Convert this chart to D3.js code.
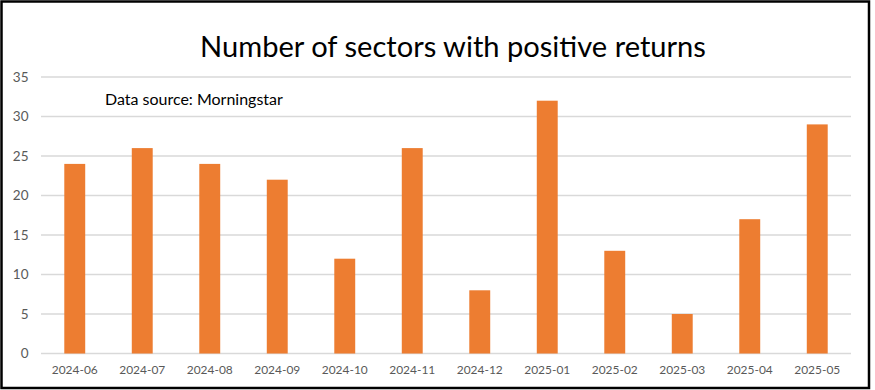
<!DOCTYPE html>
<html><head><meta charset="utf-8">
<script src="https://cdn.jsdelivr.net/npm/d3@7"></script>
<style>
html,body{margin:0;padding:0;background:#fff;}
svg{display:block;}
</style></head>
<body>
<svg id="chart" width="875" height="390"></svg>
<script>
const categories = ["2024-06","2024-07","2024-08","2024-09","2024-10","2024-11","2024-12","2025-01","2025-02","2025-03","2025-04","2025-05"];
const values = [24, 26, 24, 22, 12, 26, 8, 32, 13, 5, 17, 29];
const yTicks = [0, 5, 10, 15, 20, 25, 30, 35];
const titleText = "Number of sectors with positive returns";
const sourceText = "Data source: Morningstar";

(function () {
const svg = d3.select("#chart");
const font = "Lato, 'Open Sans', sans-serif";

// frame
svg.append("rect").attr("x", 1.5).attr("y", 1.5).attr("width", 867.5).attr("height", 386.5)
  .attr("fill", "#fff").attr("stroke", "#000").attr("stroke-width", 2.5);

const pLeft = 41, pRight = 851, pTop = 77, pBottom = 353.5;
const x = d3.scaleBand().domain(categories).range([pLeft, pRight]).paddingInner(0.69).paddingOuter(0.345);
const y = d3.scaleLinear().domain([0, 35]).range([pBottom, pTop]);

// gridlines
svg.append("g").selectAll("line").data(yTicks).join("line")
  .attr("x1", pLeft).attr("x2", pRight)
  .attr("y1", d => y(d)).attr("y2", d => y(d))
  .attr("stroke", "#d9d9d9").attr("stroke-width", 1.3);

// y axis labels
const yAxis = d3.axisLeft(y).tickValues(yTicks).tickSize(0).tickPadding(0);
const yg = svg.append("g").attr("transform", "translate(28.5,0)").call(yAxis);
yg.select(".domain").remove();
yg.selectAll("text").attr("font-family", font).attr("font-size", 13.5).attr("fill", "#595959");

// bars
svg.append("g").selectAll("rect").data(values).join("rect")
  .attr("x", (d, i) => x(categories[i]))
  .attr("width", x.bandwidth())
  .attr("y", d => y(d))
  .attr("height", d => y(0) - y(d))
  .attr("fill", "#ED7D31");

// x axis labels
const xAxis = d3.axisBottom(x).tickSize(0).tickPadding(0);
const xg = svg.append("g").attr("transform", "translate(0,366)").call(xAxis);
xg.select(".domain").remove();
xg.selectAll("text").attr("font-family", font).attr("font-size", 12).attr("fill", "#595959");

function fit(sel, target) {
  const w = sel.node().getComputedTextLength();
  const fs = parseFloat(sel.attr("font-size"));
  if (w > 0) sel.attr("font-size", fs * target / w);
}

// title
const title = svg.append("text").attr("x", 453).attr("y", 57).attr("text-anchor", "middle")
  .attr("font-family", font).attr("font-size", 28).attr("fill", "#000").text(titleText);
fit(title, 506);

// source
const src = svg.append("text").attr("x", 105).attr("y", 105)
  .attr("font-family", font).attr("font-size", 14).attr("fill", "#000").text(sourceText);
fit(src, 178);

xg.selectAll("text").each(function () { fit(d3.select(this), 46); });
})();
</script>
</body></html>
